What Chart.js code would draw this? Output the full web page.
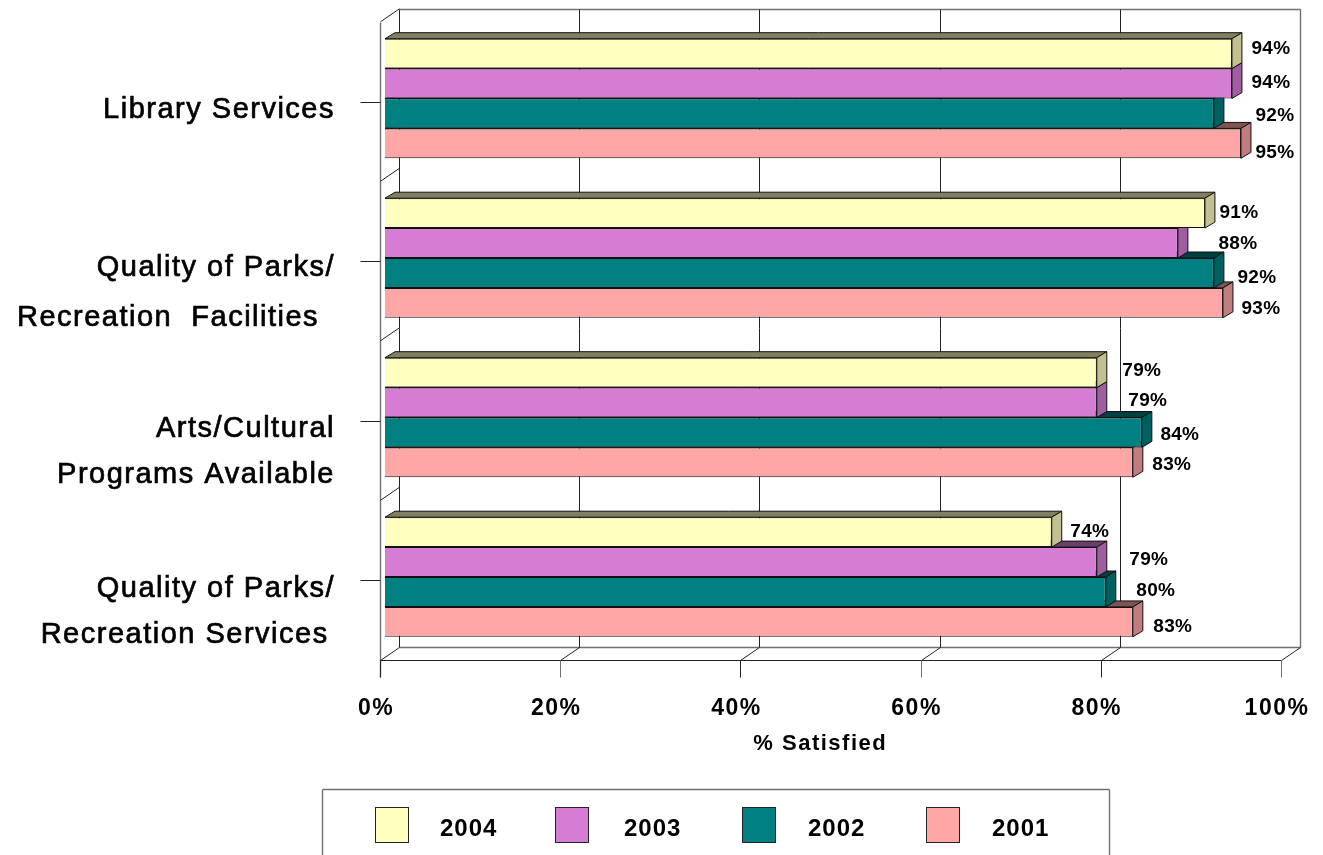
<!DOCTYPE html>
<html>
<head>
<meta charset="utf-8">
<title>% Satisfied</title>
<script src="https://cdn.jsdelivr.net/npm/chart.js@4/dist/chart.umd.min.js"></script>
<style>html,body{margin:0;padding:0;background:#fff;overflow:hidden}canvas{display:block}</style>
</head>
<body>
<canvas id="c" width="1323" height="855"></canvas>
<script>
const categories = [
  ["Library Services", ""],
  ["Quality of Parks/", "Recreation  Facilities \u2006"],
  ["Arts/Cultural", "Programs Available"],
  ["Quality of Parks/", "Recreation Services\u2006"]
];
const years = ["2004", "2003", "2002", "2001"];
const values2004 = [94, 91, 79, 74];
const values2003 = [94, 88, 79, 79];
const values2002 = [92, 92, 84, 80];
const values2001 = [95, 93, 83, 83];
const xTicks = [0, 20, 40, 60, 80, 100];

const frontColors = ["#FFFFC0", "#D47DD2", "#008080", "#FFA6A6"];
const sideColors  = ["#C0C090", "#A05EA0", "#006060", "#BF7D7D"];
const topColors   = ["#808060", "#6A3F69", "#004040", "#805353"];

// label nudges relative to each bar's end and centre
const labelDx = [[39, 34, 45, 38], [39, 60, 51, 52], [61, 43, 38, 50], [34, 38, 39, 40]];
const labelDy = [[-5, 0, -2, 0], [-1, 1, -2, -2], [2, 5, 2, -1], [9, 6, 2, 5]];
const legendSwatchLeft = [375, 555, 742, 926];
const legendTextLeft = [440, 624, 808, 992];

const DEPTH_X = 10, DEPTH_Y = 6;
const FRONT_X = -5, BACK_X = 14, FRONT_Y = 3;
const p = v => Math.round(v) + 0.5;

function line(ctx, x1, y1, x2, y2, color, w) {
  ctx.strokeStyle = color; ctx.lineWidth = w || 1;
  ctx.beginPath(); ctx.moveTo(x1, y1); ctx.lineTo(x2, y2); ctx.stroke();
}
function poly(ctx, pts, fill) {
  ctx.fillStyle = fill; ctx.strokeStyle = "#111"; ctx.lineWidth = 1;
  ctx.beginPath();
  pts.forEach((q, i) => i ? ctx.lineTo(q[0], q[1]) : ctx.moveTo(q[0], q[1]));
  ctx.closePath(); ctx.fill(); ctx.stroke();
}

const solidPlugin = {
  id: "solid",
  beforeDraw(chart) { chart.ctx.letterSpacing = "1.5px"; },
  beforeDatasetsDraw(chart) {
    const ctx = chart.ctx, xs = chart.scales.x, ys = chart.scales.y;
    const top = p(ys.top - 10), floorBack = p(ys.bottom - 10), floorFront = p(ys.bottom + 3);
    const wallFront = p(xs.left + FRONT_X), wallBack = p(xs.left + BACK_X), rightBack = p(xs.right + BACK_X);
    const grey = "#707070", dark = "#222";
    line(ctx, wallBack, top, rightBack, top, grey, 1.4);
    line(ctx, rightBack, top, rightBack, floorBack, grey, 1.4);
    line(ctx, wallBack, floorBack, rightBack, floorBack, grey, 1.4);
    line(ctx, wallFront, p(ys.top + FRONT_Y), wallFront, floorFront + 17, grey, 1.4);
    line(ctx, wallFront, floorFront, p(xs.right + FRONT_X), floorFront, dark);
    xs.ticks.forEach(t => {
      const v = xs.getPixelForValue(t.value);
      if (t.value < 100) line(ctx, p(v + BACK_X), top, p(v + BACK_X), floorBack, dark);
      line(ctx, p(v + FRONT_X), floorFront, p(v + BACK_X), floorBack, dark);
      line(ctx, p(v + FRONT_X), floorFront, p(v + FRONT_X), floorFront + 17, t.value % 40 ? grey : dark);
    });
    const step = (ys.bottom - ys.top) / categories.length;
    for (let i = 0; i < categories.length; i++) {
      const y = ys.top + step * i + FRONT_Y;
      line(ctx, wallFront, y, wallBack, y - 13, dark);
      const c = p(ys.getPixelForValue(i) + FRONT_Y);
      line(ctx, wallFront - 20, c, wallFront, c, dark);
    }
  },
  beforeDatasetDraw(chart, args) {
    const ctx = chart.ctx, i = args.index;
    chart.getDatasetMeta(i).data.forEach(bar => {
      const h = bar.height / 2, base = chart.scales.x.getPixelForValue(0);
      const x = bar.x, t = bar.y - h, b = bar.y + h;
      poly(ctx, [[base, t], [base + DEPTH_X, t - DEPTH_Y], [x + DEPTH_X, t - DEPTH_Y], [x, t]], topColors[i]);
      poly(ctx, [[x, t], [x + DEPTH_X, t - DEPTH_Y], [x + DEPTH_X, b - DEPTH_Y], [x, b]], sideColors[i]);
    });
  },
  afterDatasetsDraw(chart) {
    const ctx = chart.ctx;
    ctx.save();
    ctx.letterSpacing = "0.3px";
    ctx.font = "bold 19px 'Liberation Sans'";
    ctx.fillStyle = "#000"; ctx.textAlign = "center"; ctx.textBaseline = "middle";
    chart.data.datasets.forEach((ds, i) => {
      chart.getDatasetMeta(i).data.forEach((bar, j) => {
        ctx.fillText(ds.data[j] + "%", bar.x + labelDx[i][j], bar.y + labelDy[i][j]);
      });
    });
    ctx.restore();
  },
  afterDraw(chart) {
    const ctx = chart.ctx;
    ctx.save();
    line(ctx, 322.5, 855, 322.5, 789.5, "#707070", 1.4);
    line(ctx, 322.5, 789.5, 1109.5, 789.5, "#707070", 1.4);
    line(ctx, 1109.5, 789.5, 1109.5, 855, "#707070", 1.4);
    ctx.letterSpacing = "1px";
    ctx.font = "bold 24px 'Liberation Sans'";
    ctx.textAlign = "left"; ctx.textBaseline = "middle";
    chart.data.datasets.forEach((ds, i) => {
      const x = legendSwatchLeft[i];
      ctx.fillStyle = ds.backgroundColor; ctx.strokeStyle = "#222"; ctx.lineWidth = 1;
      ctx.fillRect(x + 0.5, 807.5, 33, 35);
      ctx.strokeRect(x + 0.5, 807.5, 33, 35);
      ctx.fillStyle = "#000";
      ctx.fillText(ds.label, legendTextLeft[i], 829);
    });
    ctx.restore();
  }
};

new Chart(document.getElementById("c"), {
  type: "bar",
  data: {
    labels: categories,
    datasets: [values2004, values2003, values2002, values2001].map((data, i) => ({
      label: years[i],
      data,
      backgroundColor: frontColors[i],
      borderColor: "#111",
      borderWidth: 1,
      barPercentage: 1,
      categoryPercentage: 0.75
    }))
  },
  plugins: [solidPlugin],
  options: {
    indexAxis: "y",
    responsive: false,
    animation: false,
    layout: { padding: { top: 18.75, right: 37, left: 0, bottom: 0 } },
    plugins: { legend: { display: false }, tooltip: { enabled: false } },
    scales: {
      x: {
        min: 0, max: 100,
        grid: { display: false, drawTicks: false },
        border: { display: false },
        afterBuildTicks(scale) { scale.ticks = xTicks.map(value => ({ value })); },
        afterFit(scale) { scale.height = 198.25; scale.paddingLeft = 0; scale.paddingRight = 0; },
        ticks: {
          callback: v => v + "%",
          color: "#000",
          font: { family: "'Liberation Sans'", size: 23, weight: "bold", lineHeight: 1.2 },
          padding: 38,
          labelOffset: -9,
          maxRotation: 0,
          autoSkip: false
        },
        title: {
          display: true,
          text: "% Satisfied    ",
          color: "#000",
          font: { family: "'Liberation Sans'", size: 22, weight: "bold", lineHeight: 1.2 },
          padding: { top: 0, bottom: 98 }
        }
      },
      y: {
        grid: { display: false, drawTicks: false },
        border: { display: false },
        afterFit(scale) { scale.width = 385; scale.paddingTop = 0; scale.paddingBottom = 0; },
        ticks: {
          color: "#000",
          textStrokeColor: "#000",
          textStrokeWidth: 0.7,
          font: ctx => ({ family: "'Liberation Sans'", size: 29, lineHeight: (ctx.index === 1 ? 50 : 46) / 29 }),
          padding: 50,
          labelOffset: 34.5,
          autoSkip: false
        }
      }
    }
  }
});
</script>
</body>
</html>
